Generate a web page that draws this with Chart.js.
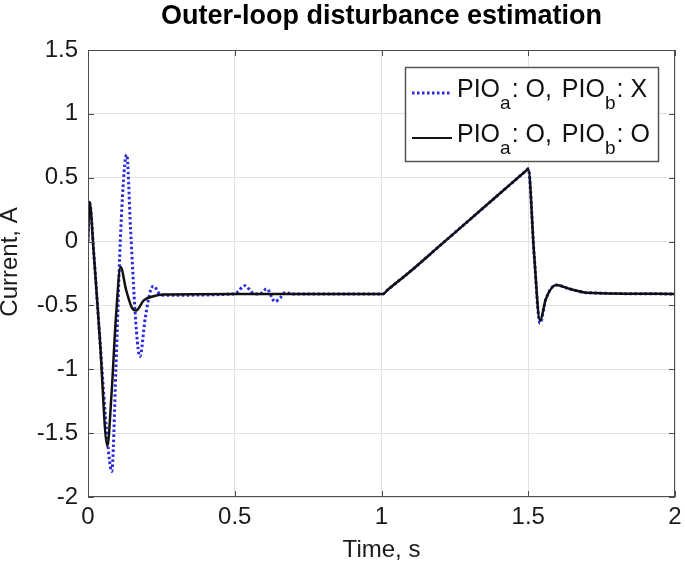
<!DOCTYPE html>
<html>
<head>
<meta charset="utf-8">
<script src="https://cdn.jsdelivr.net/npm/chart.js@4.4.1/dist/chart.umd.min.js"></script>
<style>
  html, body { margin: 0; padding: 0; background: #fff; }
  #wrap { width: 685px; height: 570px; }
</style>
</head>
<body>
<div id="wrap"><canvas id="grafico" width="685" height="570"></canvas></div>
<script>
// time (s) and current (A)
const tempoSemB = [0, 0.005, 0.02, 0.04, 0.066, 0.081, 0.095, 0.11, 0.125, 0.132, 0.145, 0.165, 0.177, 0.195, 0.215, 0.225, 0.24, 0.26,
  0.5, 0.507, 0.535, 0.56, 0.586, 0.609, 0.637, 0.655, 0.671, 0.7, 1.0, 1.005, 1.02, 1.1, 1.2, 1.3, 1.4, 1.495, 1.5, 1.52, 1.54, 1.56, 1.595, 1.64, 1.7, 2.0];
const correnteSemB = [0, 0.31, -0.1, -0.75, -1.55, -1.8, -1.0, 0.0, 0.6, 0.68, 0.1, -0.7, -0.9, -0.6, -0.37, -0.35, -0.4, -0.42,
  -0.41, -0.4, -0.345, -0.4, -0.41, -0.37, -0.47, -0.44, -0.4, -0.41, -0.41, -0.41, -0.38, -0.23, -0.03, 0.17, 0.37, 0.56, 0.57, -0.1, -0.64, -0.45, -0.34, -0.37, -0.4, -0.41];

const tempoComB = [0, 0.005, 0.02, 0.04, 0.066, 0.08, 0.095, 0.111, 0.13, 0.15, 0.164, 0.19, 0.22, 0.26, 0.5, 1.0, 1.005, 1.02,
  1.1, 1.2, 1.3, 1.4, 1.495, 1.5, 1.52, 1.54, 1.56, 1.595, 1.64, 1.7, 2.0];
const correnteComB = [0, 0.31, -0.1, -0.75, -1.6, -1.2, -0.6, -0.2, -0.38, -0.52, -0.54, -0.46, -0.43, -0.415, -0.41, -0.41, -0.41, -0.38,
  -0.23, -0.03, 0.17, 0.37, 0.56, 0.57, -0.1, -0.62, -0.45, -0.34, -0.37, -0.4, -0.41];

const ticksTempo = [0, 0.5, 1, 1.5, 2];
const ticksCorrente = [-2, -1.5, -1, -0.5, 0, 0.5, 1, 1.5];

const fonte = "'Liberation Sans', Arial, Helvetica, sans-serif";
const azul = '#2b2bdc';
const preto = '#111111';

function pontos(ts, vs) {
  return ts.map((t, i) => ({ x: t, y: vs[i] }));
}

// title, axis labels, box, inward ticks and the legend with subscripts
const moldura = {
  id: 'moldura',
  afterDraw(chart) {
    const ctx = chart.ctx;
    const a = chart.chartArea;
    const sx = chart.scales.x, sy = chart.scales.y;
    ctx.save();

    ctx.strokeStyle = '#4d4d4d';
    ctx.lineWidth = 1;
    ctx.strokeRect(a.left + 0.5, a.top + 0.5, a.right - a.left - 1, a.bottom - a.top - 1);
    ctx.beginPath();
    ticksTempo.forEach((t) => {
      const x = Math.round(sx.getPixelForValue(t)) + 0.5;
      ctx.moveTo(x, a.bottom); ctx.lineTo(x, a.bottom - 6);
      ctx.moveTo(x, a.top); ctx.lineTo(x, a.top + 6);
    });
    ticksCorrente.forEach((v) => {
      const y = Math.round(sy.getPixelForValue(v)) + 0.5;
      ctx.moveTo(a.left, y); ctx.lineTo(a.left + 6, y);
      ctx.moveTo(a.right, y); ctx.lineTo(a.right - 6, y);
    });
    ctx.stroke();

    ctx.fillStyle = '#000';
    ctx.textAlign = 'center';
    ctx.textBaseline = 'alphabetic';
    ctx.font = 'bold 27px ' + fonte;
    ctx.fillText('Outer-loop disturbance estimation', (a.left + a.right) / 2, 24);

    ctx.fillStyle = '#1a1a1a';
    ctx.font = '24px ' + fonte;
    ctx.fillText('Time, s', (a.left + a.right) / 2, 557);
    ctx.save();
    ctx.translate(17, 262);
    ctx.rotate(-Math.PI / 2);
    ctx.fillText('Current, A', 0, 0);
    ctx.restore();

    // legend
    const lx = 405, ly = 67, lw = 253, lh = 94;
    ctx.fillStyle = '#fff';
    ctx.fillRect(lx, ly, lw, lh);
    ctx.strokeStyle = '#555';
    ctx.lineWidth = 1.5;
    ctx.strokeRect(lx + 0.5, ly + 0.5, lw, lh);

    const linhas = [
      { cor: azul, tracejado: [2.5, 2.5], largura: 3, fim: 'X', y: 97 },
      { cor: preto, tracejado: [], largura: 2.2, fim: 'O', y: 142 }
    ];
    linhas.forEach((l) => {
      ctx.beginPath();
      ctx.setLineDash(l.tracejado);
      ctx.strokeStyle = l.cor;
      ctx.lineWidth = l.largura;
      ctx.moveTo(412, l.y - 4);
      ctx.lineTo(452, l.y - 4);
      ctx.stroke();
      ctx.setLineDash([]);

      ctx.fillStyle = '#111';
      ctx.textAlign = 'left';
      let x = 457;
      const partes = [['PIO', 0], ['a', 1], [': O, ', 0], ['PIO', 0], ['b', 1], [': ' + l.fim, 0]];
      partes.forEach(([txt, sub], i) => {
        ctx.font = (sub ? '19px ' : '25px ') + fonte;
        ctx.fillText(txt, x, l.y + (sub ? 12 : 0));
        x += ctx.measureText(txt).width + (sub ? 1 : 0) + (i === 2 ? 3 : 0);
      });
    });
    ctx.restore();
  }
};

new Chart(document.getElementById('grafico').getContext('2d'), {
  type: 'line',
  data: {
    datasets: [
      {
        label: 'PIOa: O, PIOb: O',
        data: pontos(tempoComB, correnteComB),
        borderColor: preto,
        borderWidth: 2.5,
        pointRadius: 0,
        cubicInterpolationMode: 'monotone',
        order: 0
      },
      {
        label: 'PIOa: O, PIOb: X',
        data: pontos(tempoSemB, correnteSemB),
        borderColor: azul,
        borderWidth: 3,
        borderDash: [2.5, 2.5],
        pointRadius: 0,
        cubicInterpolationMode: 'monotone',
        order: 1
      }
    ]
  },
  options: {
    responsive: false,
    animation: false,
    layout: { padding: { top: 50, right: 10, left: 0, bottom: 0 } },
    plugins: {
      legend: { display: false },
      title: { display: false },
      tooltip: { enabled: false }
    },
    scales: {
      x: {
        type: 'linear',
        min: 0,
        max: 2,
        afterFit: (s) => { s.height = 73; s.paddingLeft = 0; s.paddingRight = 0; },
        afterBuildTicks: (s) => { s.ticks = ticksTempo.map((v) => ({ value: v })); },
        grid: { color: '#e2e2e2', drawTicks: false },
        border: { display: false },
        ticks: { color: '#1a1a1a', padding: 6, font: { family: fonte, size: 24 }, maxRotation: 0, callback: (v) => String(v) }
      },
      y: {
        type: 'linear',
        min: -2,
        max: 1.5,
        afterFit: (s) => { s.width = 88; s.paddingTop = 0; s.paddingBottom = 0; },
        afterBuildTicks: (s) => { s.ticks = ticksCorrente.map((v) => ({ value: v })); },
        grid: { color: '#e2e2e2', drawTicks: false },
        border: { display: false },
        ticks: { color: '#1a1a1a', padding: 10, font: { family: fonte, size: 24 }, callback: (v) => String(v) }
      }
    }
  },
  plugins: [moldura]
});
</script>
</body>
</html>
